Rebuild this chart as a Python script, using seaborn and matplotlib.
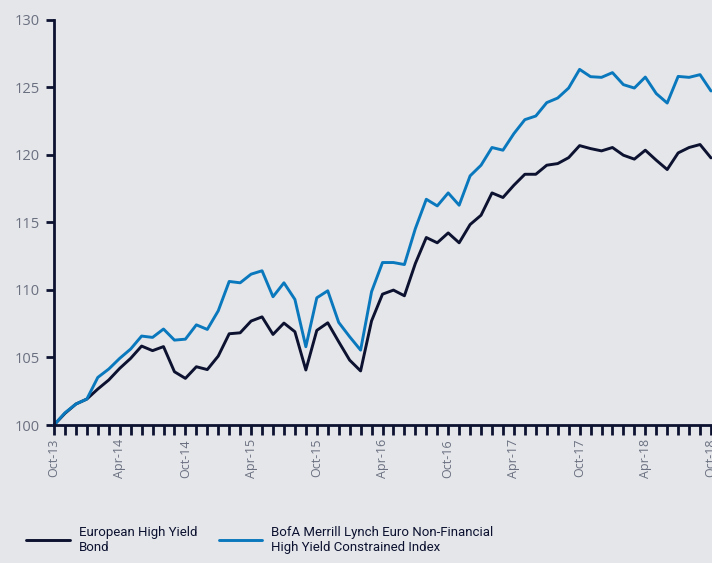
import matplotlib
matplotlib.use("Agg")
import matplotlib.pyplot as plt
import seaborn as sns
import pandas as pd
from matplotlib.ticker import MultipleLocator

# monthly index values, Oct-13 .. Oct-18 (rebased to 100)
months = pd.date_range("2013-10-01", periods=61, freq="MS")
european_hy = [100.0, 100.86, 101.55, 101.92, 102.66, 103.33, 104.19, 104.93, 105.84, 105.5, 105.8,
               103.94, 103.45, 104.31, 104.1, 105.1, 106.75, 106.82, 107.69, 108.0, 106.7,
               107.54, 106.9, 104.07, 107.0, 107.56, 106.16, 104.8, 104.0, 107.7, 109.68,
               109.98, 109.56, 111.95, 113.87, 113.48, 114.21, 113.48, 114.83, 115.52, 117.17,
               116.83, 117.74, 118.55, 118.55, 119.22, 119.34, 119.78, 120.67, 120.45, 120.28,
               120.53, 119.96, 119.67, 120.33, 119.59, 118.9, 120.13, 120.53, 120.75, 119.76]
bofa_index = [100.0, 100.9, 101.55, 101.92, 103.52, 104.14, 104.93, 105.62, 106.58, 106.48, 107.1,
              106.28, 106.35, 107.41, 107.07, 108.45, 110.62, 110.52, 111.16, 111.41, 109.49,
              110.52, 109.29, 105.79, 109.41, 109.93, 107.59, 106.53, 105.54, 109.86, 112.02,
              112.02, 111.87, 114.53, 116.7, 116.21, 117.17, 116.26, 118.43, 119.22, 120.53,
              120.33, 121.56, 122.59, 122.86, 123.85, 124.19, 124.93, 126.31, 125.77, 125.72,
              126.07, 125.18, 124.93, 125.74, 124.52, 123.82, 125.79, 125.72, 125.92, 124.71]
series_names = ["European High Yield\nBond",
                "BofA Merrill Lynch Euro Non-Financial\nHigh Yield Constrained Index"]

bg = "#e5e6ea"
navy = "#0c1230"
blue = "#0a78bd"
grey = "#6a7080"

n = len(months)
df = pd.DataFrame({
    "m": list(range(n)) * 2,
    "value": european_hy + bofa_index,
    "series": [series_names[0]] * n + [series_names[1]] * n,
})

sns.set_style("white")
plt.rcParams["font.family"] = ["Open Sans", "DejaVu Sans"]

fig = plt.figure(figsize=(7.12, 5.63), dpi=100, facecolor=bg)
ax = fig.add_axes([54 / 712, 138 / 563, 657 / 712, 405.5 / 563])
ax.set_facecolor(bg)

sns.lineplot(data=df, x="m", y="value", hue="series",
             palette=[navy, blue], linewidth=2.1, ax=ax, legend=False)

ax.set_xlim(0, n - 1)
ax.set_ylim(100, 130)
ax.yaxis.set_major_locator(MultipleLocator(5))
ax.set_xticks(range(0, n, 6))
ax.set_xticklabels([d.strftime("%b-%y") for d in months[::6]], rotation=90)
ax.xaxis.set_minor_locator(MultipleLocator(1))
ax.set_xlabel("")
ax.set_ylabel("")

for s in ["top", "right"]:
    ax.spines[s].set_visible(False)
for s in ["left", "bottom"]:
    ax.spines[s].set_color(navy)
    ax.spines[s].set_linewidth(2)
ax.tick_params(axis="both", which="both", direction="out", color=navy,
               width=2, labelcolor=grey, bottom=True, left=True)
ax.tick_params(axis="y", which="minor", left=False)
ax.tick_params(axis="y", length=6, pad=4, labelsize=10.5)
ax.tick_params(axis="x", which="both", length=7, pad=3, labelsize=9)
for line in ax.lines:
    line.set_clip_on(False)

handles = [plt.Line2D([], [], color=navy, lw=2.1), plt.Line2D([], [], color=blue, lw=2.1)]
fig.legend(handles, series_names, loc="lower left", bbox_to_anchor=(0.02, -0.005),
           ncol=2, frameon=False, handlelength=3.3, handletextpad=0.7, columnspacing=1.6,
           labelspacing=0.2, labelcolor=navy,
           prop={"family": ["Roboto", "DejaVu Sans"], "size": 9.5})

fig.savefig("out.png", dpi=100, facecolor=bg)
